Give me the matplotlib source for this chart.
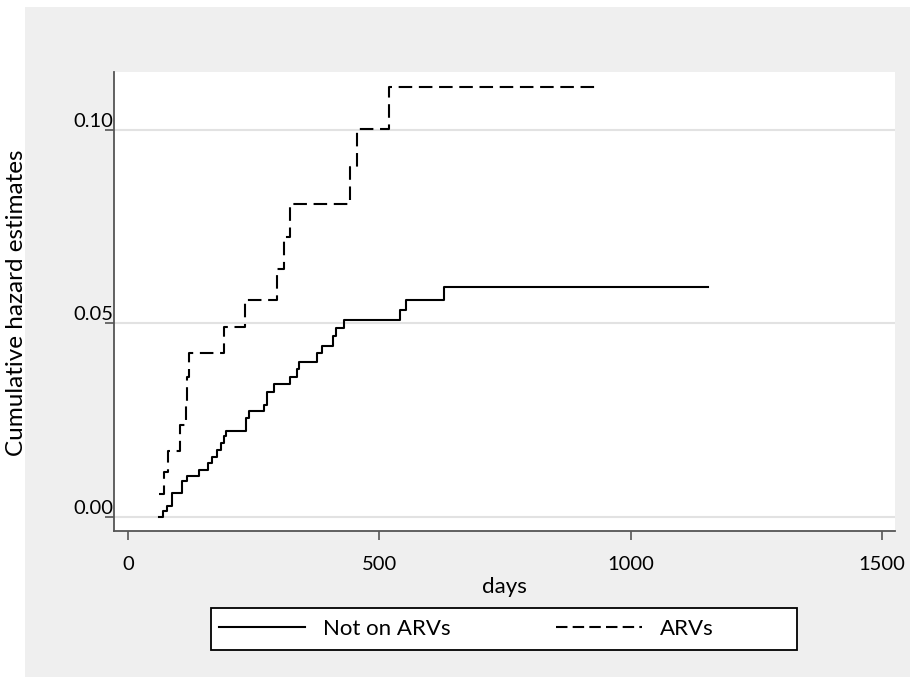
import matplotlib
matplotlib.use("Agg")
import matplotlib.pyplot as plt
from matplotlib.patches import Rectangle
from matplotlib.lines import Line2D

plt.rcParams["font.family"] = ["Lato", "DejaVu Sans"]

# Nelson-Aalen cumulative hazard, step points (days, hazard)
days_not_arv = [62, 69, 77, 87, 107, 118, 141, 160, 168, 178, 186, 191, 196, 234, 241,
                271, 277, 291, 322, 337, 340, 377, 386, 408, 414, 430, 541, 554, 629, 1154]
haz_not_arv = [0.0000, 0.0013, 0.0028, 0.0060, 0.0092, 0.0106, 0.0121, 0.0138, 0.0155,
               0.0173, 0.0190, 0.0207, 0.0220, 0.0254, 0.0272, 0.0289, 0.0323, 0.0343,
               0.0362, 0.0382, 0.0401, 0.0423, 0.0442, 0.0466, 0.0487, 0.0509, 0.0535,
               0.0561, 0.0594, 0.0594]

days_arv = [62, 71, 80, 103, 115, 118, 121, 191, 233, 296, 311, 322, 442, 455, 519, 936]
haz_arv = [0.0059, 0.0116, 0.0170, 0.0237, 0.0300, 0.0360, 0.0423, 0.0490, 0.0560,
           0.0640, 0.0724, 0.0808, 0.0904, 0.1002, 0.1112, 0.1112]

x_ticks = [0, 500, 1000, 1500]
y_ticks = [0.00, 0.05, 0.10]
y_tick_labels = ["0.00", "0.05", "0.10"]

W, H = 910, 677
fig = plt.figure(figsize=(W / 100, H / 100), dpi=100, facecolor="white")

# grey graph region (Stata style)
fig.patches.append(Rectangle((25 / W, 0), 1 - 25 / W, (H - 7) / H,
                             transform=fig.transFigure, facecolor="#efefef",
                             edgecolor="none", zorder=-10))

ax = fig.add_axes([114 / W, (H - 531) / H, (895 - 114) / W, (531 - 72) / H])
ax.set_facecolor("white")

ax.step(days_not_arv, haz_not_arv, where="post", color="black", lw=1.5,
        label="Not on ARVs", zorder=3)
ax.step(days_arv, haz_arv, where="post", color="black", lw=1.5,
        dashes=(6.5, 3.2), label="ARVs", zorder=3)

ax.set_xlim(-27.8, 1526)
ax.set_ylim(-0.00375, 0.115)
ax.set_xticks(x_ticks)
ax.set_yticks(y_ticks)
ax.set_yticklabels(y_tick_labels)

ax.grid(axis="y", color="#e2e2e2", lw=1.5, zorder=1)
ax.grid(axis="x", visible=False)

for s in ["top", "right"]:
    ax.spines[s].set_visible(False)
for s in ["left", "bottom"]:
    ax.spines[s].set_color("#555555")
    ax.spines[s].set_linewidth(1.3)

ax.tick_params(axis="x", length=6.5, width=1.2, color="#555555", labelsize=14.5, pad=11.5)
ax.tick_params(axis="y", length=6.5, width=1.2, color="#555555", labelsize=14.5, pad=-6)
for lab in ax.get_yticklabels():
    lab.set_verticalalignment("bottom")

ax.set_xlabel("days", fontsize=16, labelpad=3)
fig.text(17 / W, 1 - 303 / H, "Cumulative hazard estimates", rotation=90,
         ha="center", va="center", fontsize=17.5)

# legend box drawn by hand, entries placed inside it
fig.patches.append(Rectangle((211 / W, (H - 650) / H), 586 / W, 42 / H,
                             transform=fig.transFigure, facecolor="white",
                             edgecolor="black", lw=1.3, zorder=2))
handles = [Line2D([], [], color="black", lw=1.5),
           Line2D([], [], color="black", lw=1.5, dashes=(5.5, 2.5))]
leg = fig.legend(handles, ["Not on ARVs", "ARVs"], ncol=2, loc="center left",
                 bbox_to_anchor=(211 / W, (H - 629) / H),
                 bbox_transform=fig.transFigure, borderaxespad=0,
                 fontsize=16, handlelength=3.87, handletextpad=0.81,
                 columnspacing=4.75, borderpad=0.36, frameon=False)
leg.set_zorder(3)

fig.savefig("out.png", dpi=100, facecolor=fig.get_facecolor())
